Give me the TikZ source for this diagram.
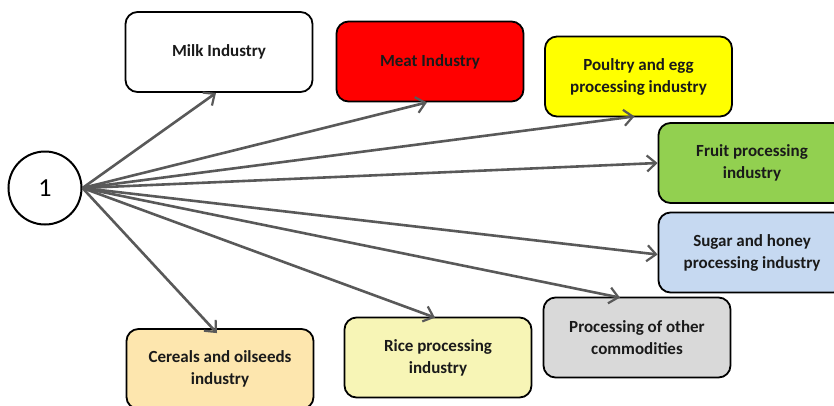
\documentclass[tikz,border=0pt]{standalone}
\usepackage{fontspec}
\setmainfont{Carlito}
\usetikzlibrary{arrows.meta,calc}
\definecolor{arrowgray}{HTML}{595959}
\definecolor{meatred}{HTML}{FF0000}
\definecolor{poultryyellow}{HTML}{FFFF00}
\definecolor{fruitgreen}{HTML}{92D050}
\definecolor{sugarblue}{HTML}{C6D9F1}
\definecolor{othergray}{HTML}{D9D9D9}
\definecolor{cerealorange}{HTML}{FDE6AE}
\definecolor{riceyellow}{HTML}{F7F5B6}
\definecolor{txt}{HTML}{1A1A1A}
\tikzset{
  catbox/.style={draw=black, line width=1.8pt, rounded corners=12pt,
    minimum width=187pt, minimum height=80pt, align=center,
    font=\bfseries\fontsize{17}{22}\selectfont, text=txt, inner sep=2pt},
  link/.style={draw=arrowgray, line width=2.6pt,
    -{Straight Barb[length=9pt,width=16pt,line width=2.2pt]}},
  hub/.style={circle, draw=black, line width=2pt, fill=white,
    minimum size=73pt, font=\fontsize{26}{28}\selectfont, inner sep=0pt}
}
\begin{document}
\begin{tikzpicture}[x=1pt,y=-1pt]
\useasboundingbox (0,0) rectangle (834,405);
\clip (0,0) rectangle (834,405);
\node[hub] (c) at (45,188) {1};
\node[catbox, fill=white] (milk) at (219,52) {Milk Industry};
\node[catbox, fill=meatred] (meat) at (430,61.5) {Meat Industry};
\node[catbox, fill=poultryyellow] (poultry) at (638.5,76.5) {Poultry and egg\\processing industry};
\node[catbox, fill=fruitgreen] (fruit) at (752,163) {Fruit processing\\industry};
\node[catbox, fill=sugarblue] (sugar) at (752,252.5) {Sugar and honey\\processing industry};
\node[catbox, fill=othergray] (others) at (637,337.5) {Processing of other\\commodities};
\node[catbox, fill=riceyellow] (rice) at (438,357.5) {Rice processing\\industry};
\node[catbox, fill=cerealorange] (cereals) at (220,369) {Cereals and oilseeds\\industry};
\draw[link] (c.east) -- ([xshift=-3pt]milk.south);
\draw[link] (c.east) -- ([xshift=-3pt]meat.south);
\draw[link] (c.east) -- ([xshift=-4pt,yshift=1pt]poultry.south);
\draw[link] (c.east) -- (fruit.west);
\draw[link] (c.east) -- ([yshift=-2pt]sugar.west);
\draw[link] (c.east) -- ([xshift=-17pt,yshift=-1pt]others.north);
\draw[link] (c.east) -- ([xshift=-3pt,yshift=-1pt]rice.north);
\draw[link] (c.east) -- ([xshift=-3pt,yshift=-5pt]cereals.north);
\end{tikzpicture}
\end{document}
